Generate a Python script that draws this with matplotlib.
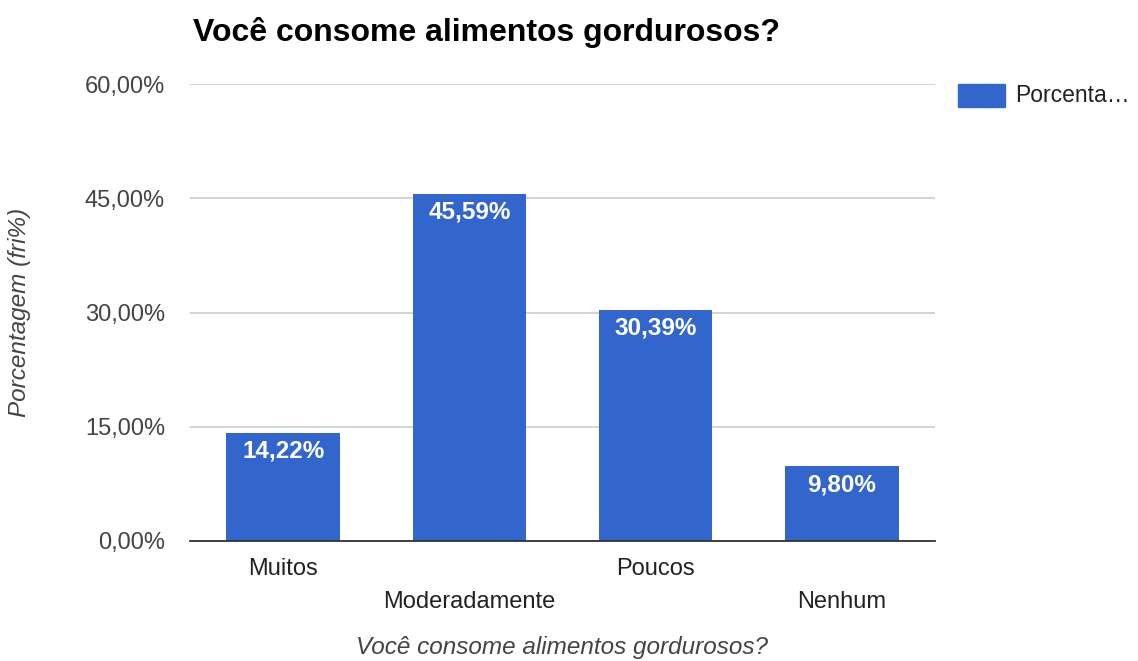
import matplotlib
matplotlib.use("Agg")
import matplotlib.pyplot as plt
from matplotlib.patches import Rectangle

# ── Data ──
CATEGORIES = ["Muitos", "Moderadamente", "Poucos", "Nenhum"]
VALUES = [14.22, 45.59, 30.39, 9.80]
YTICKS = [0, 15, 30, 45, 60]
BAR_COLOR = "#3366CC"

plt.rcParams["font.family"] = ["Liberation Sans", "DejaVu Sans"]


def pct(v):
    return f"{v:.2f}%".replace(".", ",")


W, H = 1138, 661
fig = plt.figure(figsize=(W / 100, H / 100), dpi=100)
ax = fig.add_axes([190 / W, (H - 541) / H, (935 - 190) / W, (541 - 84) / H])

x = range(len(CATEGORIES))
bars = ax.bar(x, VALUES, width=0.61, color=BAR_COLOR, zorder=3)
ax.set_xlim(-0.5, len(CATEGORIES) - 0.5)
ax.set_ylim(0, 60)

# value labels inside the bar tops
for b, v in zip(bars, VALUES):
    ax.text(b.get_x() + b.get_width() / 2, v - 0.9, pct(v),
            ha="center", va="top", color="white", fontsize=17.5,
            fontweight="bold", zorder=4)

# grid / spines
ax.set_yticks(YTICKS)
ax.set_yticklabels([pct(t) for t in YTICKS], color="#444444", fontsize=17)
ax.yaxis.grid(True, color="#cccccc", linewidth=1.2, zorder=0)
ax.tick_params(axis="y", length=0, pad=18)
for s in ["top", "right", "left"]:
    ax.spines[s].set_visible(False)
ax.spines["bottom"].set_color("#333333")
ax.spines["bottom"].set_linewidth(1.3)
ax.spines["bottom"].set_zorder(5)

# category labels, staggered on two rows
ax.set_xticks([])
for i, c in enumerate(CATEGORIES):
    y_off = -0.062 if i % 2 == 0 else -0.134
    ax.text(i, y_off, c, transform=ax.get_xaxis_transform(),
            ha="center", va="center", fontsize=17, color="#222222")

ax.text(0.5, -0.232, "Você consome alimentos gordurosos?",
        transform=ax.transAxes, ha="center", va="center",
        fontsize=17.5, style="italic", color="#444444")
fig.text(20 / W, 1 - 312 / H, "Porcentagem (fri%)", rotation=90,
         ha="center", va="center", fontsize=17.5, style="italic", color="#444444")

fig.text(193 / W, 1 - 32 / H, "Você consome alimentos gordurosos?",
         ha="left", va="center", fontsize=23, fontweight="bold", color="#000000")

# legend
fig.patches.append(Rectangle((958 / W, 1 - 107 / H), 47 / W, 23 / H,
                             transform=fig.transFigure, color=BAR_COLOR))
fig.text(1015 / W, 1 - 96 / H, "Porcenta…", ha="left", va="center",
         fontsize=16.5, color="#222222")

fig.savefig("out.png", dpi=100)
